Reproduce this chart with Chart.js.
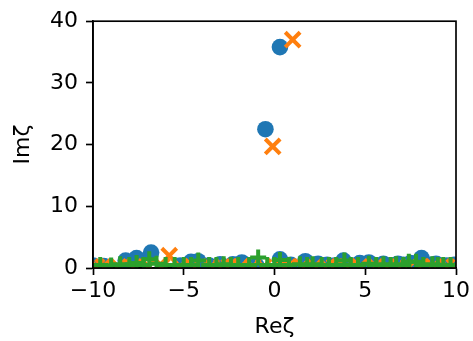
<!DOCTYPE html>
<html>
<head>
<meta charset="utf-8">
<script src="https://cdn.jsdelivr.net/npm/chart.js@4"></script>
<style>
  body { margin: 0; background: #fff; }
</style>
</head>
<body>
<canvas id="roots" width="473" height="341"></canvas>
<script>
// roots in the complex plane
const blueRe = [-10, -9.4, -8.2, -7.6, -6.8, -5.2, -4.6, -4.2, -3.6, -3.0, -2.3, -1.8, -1.0, -0.5, 0.3, 0.3, 0.9, 1.7, 2.4, 2.9, 3.3, 3.8, 4.2, 4.7, 5.2, 6.0, 6.4, 6.8, 7.1, 7.5, 8.1, 8.6, 8.9, 9.5, 9.9];
const blueIm = [0.4, 0.3, 1.2, 1.6, 2.5, 0.4, 1.0, 1.1, 0.4, 0.6, 0.6, 0.9, 0.4, 22.5, 35.8, 1.4, 0.5, 1.1, 0.7, 0.5, 0.4, 1.2, 0.4, 0.8, 0.9, 0.7, 0.4, 0.7, 0.5, 0.8, 1.6, 0.5, 0.7, 0.4, 0.5];

const orangeRe = [-9.8, -9.45, -8.6, -7.75, -6.95, -6.2, -5.8, -5.2, -4.5, -3.5, -2.9, -2.5, -1.85, -1.2, -0.6, -0.1, 0.4, 0.75, 1.0, 1.5, 2.2, 2.9, 3.3, 4.0, 4.7, 5.6, 6.2, 6.8, 7.4, 8.1, 8.7, 9.5, 9.9];
const orangeIm = [0.2, 0.2, 0.2, 0.2, 0.25, 0.3, 2.0, 0.2, 0.2, 0.2, 0.2, 0.2, 0.2, 0.2, 0.2, 19.7, 0.2, 0.2, 37.0, 0.2, 0.2, 0.2, 0.2, 0.2, 0.2, 0.2, 0.2, 0.2, 0.2, 0.2, 0.2, 0.2, 0.2];

const greenRe = [-9.6, -9.0, -8.5, -8.0, -7.6, -7.2, -6.9, -6.5, -6.0, -5.5, -5.0, -4.6, -4.2, -3.6, -3.2, -2.8, -2.4, -2.0, -1.4, -0.9, -0.4, 0.0, 0.3, 0.8, 1.4, 1.8, 2.1, 2.6, 3.0, 3.4, 3.85, 4.2, 4.6, 5.2, 5.6, 6.0, 6.4, 6.7, 7.1, 7.4, 7.8, 8.2, 8.7, 9.0, 9.3, 9.7];
const greenIm = [0.5, 0.4, 0.6, 0.5, 0.8, 0.5, 1.4, 0.7, 0.5, 0.5, 0.5, 0.5, 1.2, 0.5, 0.5, 0.6, 0.5, 0.5, 0.5, 1.7, 0.5, 0.5, 1.3, 0.5, 0.6, 0.5, 0.6, 0.5, 0.5, 0.5, 1.2, 0.5, 0.5, 0.7, 0.5, 0.6, 0.5, 0.6, 0.5, 1.0, 1.0, 0.5, 0.6, 0.5, 0.5, 0.5];

const xTicks = [-10, -5, 0, 5, 10];
const yTicks = [0, 10, 20, 30, 40];

function toPoints(re, im) {
    return re.map(function (x, i) {
        return {x: x, y: im[i]};
    });
}

const tickFont = {family: 'DejaVu Sans', size: 22};

const frame = {
    id: 'frame',
    afterDatasetsDraw(chart) {
        const a = chart.chartArea;
        const ctx = chart.ctx;
        ctx.save();
        ctx.strokeStyle = '#000';
        ctx.lineWidth = 1.67;
        ctx.strokeRect(a.left, a.top, a.right - a.left, a.bottom - a.top);
        ctx.restore();
    }
};

new Chart(document.getElementById('roots').getContext('2d'), {
    type: 'scatter',
    data: {
        datasets: [{
            data: toPoints(blueRe, blueIm),
            pointStyle: 'circle',
            pointRadius: 8.3,
            pointBorderWidth: 0,
            backgroundColor: '#1f77b4',
            borderColor: '#1f77b4',
            order: 3,
            clip: 0
        }, {
            data: toPoints(orangeRe, orangeIm),
            pointStyle: 'crossRot',
            pointRadius: 10.5,
            pointBorderWidth: 4,
            backgroundColor: '#ff7f0e',
            borderColor: '#ff7f0e',
            order: 2,
            clip: 0
        }, {
            data: toPoints(greenRe, greenIm),
            pointStyle: 'cross',
            pointRadius: 8,
            pointBorderWidth: 4,
            backgroundColor: '#2ca02c',
            borderColor: '#2ca02c',
            order: 1,
            clip: 0
        }]
    },
    options: {
        responsive: false,
        animation: false,
        layout: {padding: {top: 17, right: 16, left: 0, bottom: 0}},
        plugins: {legend: {display: false}, tooltip: {enabled: false}},
        elements: {point: {hoverRadius: 8}},
        scales: {
            x: {
                type: 'linear',
                min: -10,
                max: 10,
                afterFit: function (s) { s.height = 73; },
                afterBuildTicks: function (s) { s.ticks = xTicks.map(function (v) { return {value: v}; }); },
                ticks: {
                    font: tickFont,
                    color: '#000',
                    padding: 3,
                    maxRotation: 0,
                    callback: function (v) { return String(v).replace('-', '\u2212'); }
                },
                grid: {drawOnChartArea: false, tickLength: 7, tickWidth: 1.67, tickColor: '#000'},
                border: {display: true, color: '#000', width: 1.67},
                title: {display: true, text: 'Reζ', font: tickFont, color: '#000', padding: {top: 0, bottom: 1}}
            },
            y: {
                type: 'linear',
                min: 0,
                max: 40,
                afterFit: function (s) { s.width = 93; },
                afterBuildTicks: function (s) { s.ticks = yTicks.map(function (v) { return {value: v}; }); },
                ticks: {font: tickFont, color: '#000', padding: 8},
                grid: {drawOnChartArea: false, tickLength: 7, tickWidth: 1.67, tickColor: '#000'},
                border: {display: true, color: '#000', width: 1.67},
                title: {display: true, text: 'Imζ', font: tickFont, color: '#000', padding: {top: 10, bottom: 0}}
            }
        }
    },
    plugins: [frame]
});
</script>
</body>
</html>
